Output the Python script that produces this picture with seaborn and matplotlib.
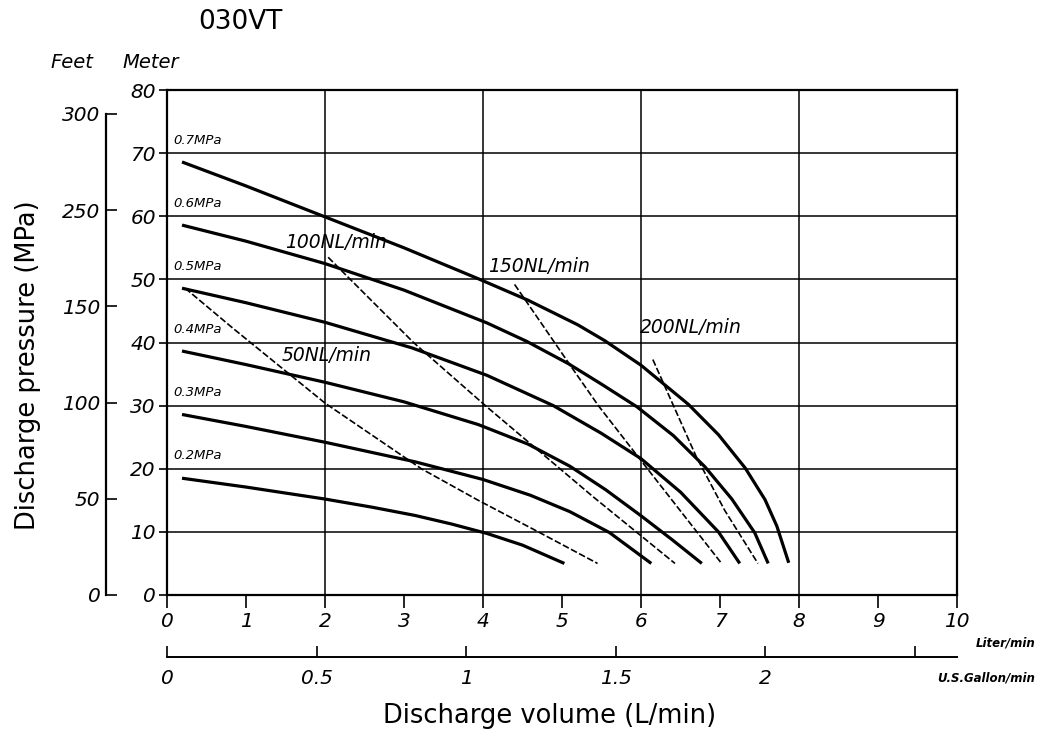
import numpy as np
import pandas as pd
import matplotlib
matplotlib.use("Agg")
import matplotlib.pyplot as plt
from matplotlib.ticker import MultipleLocator, FixedLocator, FixedFormatter
import seaborn as sns

# ---------------- data (L/min, m) ----------------
pressure_names = ["0.7MPa", "0.6MPa", "0.5MPa", "0.4MPa", "0.3MPa", "0.2MPa"]
p07_x = [0.19, 1.0, 2.0, 3.0, 3.94, 4.57, 5.20, 5.54, 6.0, 6.6, 6.98, 7.32, 7.57, 7.72, 7.87]
p07_y = [68.6, 64.8, 59.9, 55.0, 50.1, 46.7, 42.8, 40.3, 36.4, 30.2, 25.4, 20.1, 15.1, 10.9, 5.1]
p06_x = [0.19, 1.0, 2.0, 3.0, 4.05, 4.55, 5.08, 5.5, 5.95, 6.41, 6.81, 7.15, 7.44, 7.61]
p06_y = [58.6, 56.05, 52.5, 48.3, 43.1, 40.2, 36.65, 33.4, 29.8, 25.25, 20.3, 15.2, 9.85, 5.0]
p05_x = [0.19, 1.0, 2.0, 3.1, 4.05, 4.89, 5.5, 6.0, 6.5, 6.98, 7.25]
p05_y = [48.6, 46.3, 43.2, 39.15, 34.8, 30.0, 25.6, 21.6, 16.3, 10.0, 5.0]
p04_x = [0.19, 1.0, 2.0, 3.0, 3.94, 4.57, 5.1, 5.55, 6.0, 6.4, 6.77]
p04_y = [38.65, 36.5, 33.7, 30.6, 27.0, 23.9, 20.4, 16.7, 12.55, 8.7, 5.0]
p03_x = [0.19, 1.0, 2.0, 3.14, 4.0, 4.6, 5.1, 5.6, 6.13]
p03_y = [28.6, 26.7, 24.2, 21.1, 18.3, 15.8, 13.2, 9.9, 5.0]
p02_x = [0.19, 1.0, 2.0, 2.6, 3.14, 3.6, 4.05, 4.5, 5.03]
p02_y = [18.5, 17.1, 15.2, 13.9, 12.6, 11.25, 9.75, 7.9, 5.0]

air_names = ["50NL/min", "100NL/min", "150NL/min", "200NL/min"]
a50_x = [0.23, 0.84, 2.0, 3.22, 3.94, 4.7, 5.45]
a50_y = [48.6, 42.2, 30.4, 20.0, 15.0, 10.0, 5.0]
a100_x = [2.04, 3.12, 4.03, 5.39, 6.43]
a100_y = [53.5, 40.0, 30.0, 15.6, 5.0]
a150_x = [4.40, 5.12, 5.46, 6.0, 7.02]
a150_y = [49.2, 36.1, 30.0, 21.3, 5.0]
a200_x = [6.15, 6.70, 7.06, 7.48]
a200_y = [37.3, 21.9, 13.4, 5.0]

liter_ticks = list(range(0, 11))
meter_ticks = list(range(0, 81, 10))
feet_tick_values = [0, 50, 100, 150, 200, 250]
feet_tick_labels = ["0", "50", "100", "150", "250", "300"]
gallon_ticks = [0, 0.5, 1, 1.5, 2, 2.5]
gallon_labels = ["0", "0.5", "1", "1.5", "2", ""]

LITERS_PER_GALLON = 3.785
METERS_PER_FOOT = 0.3048

# ---------------- figure ----------------
sns.set_style("white")
plt.rcParams["font.family"] = ["DejaVu Sans"]
plt.rcParams["text.color"] = "black"
plt.rcParams["xtick.color"] = "black"
plt.rcParams["ytick.color"] = "black"
plt.rcParams["xtick.labelcolor"] = "black"
plt.rcParams["ytick.labelcolor"] = "black"
W, H = 1038, 733
fig = plt.figure(figsize=(W / 100, H / 100), dpi=100)

L, R, B, T = 167, 957, 595, 90
ax = fig.add_axes([L / W, 1 - B / H, (R - L) / W, (B - T) / H])
ax.set_xlim(0, 10)
ax.set_ylim(0, 80)

for s in ax.spines.values():
    s.set_color("black")
    s.set_linewidth(1.6)

ax.xaxis.set_major_locator(MultipleLocator(2))
ax.xaxis.set_minor_locator(FixedLocator([t for t in liter_ticks if t % 2]))
ax.xaxis.set_major_formatter(lambda v, p: f"{int(v)}")
ax.xaxis.set_minor_formatter(lambda v, p: f"{int(v)}")
ax.yaxis.set_major_locator(FixedLocator(meter_ticks))
ax.yaxis.set_major_formatter(lambda v, p: f"{int(v)}")
ax.grid(True, which="major", color="black", linewidth=1.1)
ax.set_axisbelow(True)
ax.tick_params(axis="x", which="both", direction="out", length=9, width=1.2,
               color="black", labelcolor="black", labelsize=14.5, pad=3, bottom=True)
ax.tick_params(axis="y", which="major", direction="out", length=6, width=1.2,
               color="black", labelcolor="black", labelsize=14.5, pad=2, left=True)
for lab in ax.get_xticklabels(which="both") + ax.get_yticklabels():
    lab.set_fontstyle("italic")

# pressure curves
solid = [(p07_x, p07_y), (p06_x, p06_y), (p05_x, p05_y),
         (p04_x, p04_y), (p03_x, p03_y), (p02_x, p02_y)]
for (xs, ys) in solid:
    sns.lineplot(x=xs, y=ys, ax=ax, color="black", linewidth=2.3,
                 sort=False, estimator=None, solid_capstyle="butt",
                 solid_joinstyle="round")

dashed = [(a50_x, a50_y), (a100_x, a100_y), (a150_x, a150_y), (a200_x, a200_y)]
for (xs, ys) in dashed:
    sns.lineplot(x=xs, y=ys, ax=ax, color="black", linewidth=1.2,
                 sort=False, estimator=None, linestyle=(0, (4, 1.5)))

# curve labels
p_label_pos = [(0.08, 71.0), (0.08, 61.0), (0.08, 51.0),
               (0.08, 41.0), (0.08, 31.0), (0.08, 21.0)]
for name, (x, y) in zip(pressure_names, p_label_pos):
    ax.text(x, y, name, fontsize=9.5, fontstyle="italic", ha="left", va="bottom",
            color="black")

a_label_pos = [(1.45, 38.0), (1.5, 55.9), (4.07, 52.1), (5.99, 42.3)]
for name, (x, y) in zip(air_names, a_label_pos):
    ax.text(x, y, name, fontsize=13.5, fontstyle="italic", ha="left", va="center",
            color="black")

# feet axis
FT_X = 106
axf = fig.add_axes([FT_X / W, 1 - B / H, 0.001, (B - T) / H])
axf.set_ylim(0, 80 / METERS_PER_FOOT)
axf.set_xticks([])
axf.patch.set_visible(False)
for k, s in axf.spines.items():
    s.set_visible(k == "left")
axf.spines["left"].set_linewidth(1.6)
axf.spines["left"].set_color("black")
axf.spines["left"].set_bounds(feet_tick_values[0], feet_tick_values[-1])
axf.yaxis.set_major_locator(FixedLocator(feet_tick_values))
axf.yaxis.set_major_formatter(FixedFormatter(feet_tick_labels))
axf.tick_params(axis="y", direction="in", length=8, width=1.2, color="black",
                labelcolor="black", labelsize=14.5, pad=4, left=True)
for lab in axf.get_yticklabels():
    lab.set_fontstyle("italic")

# gallon axis
GAL_Y = 657
axg = fig.add_axes([L / W, 1 - GAL_Y / H, (R - L) / W, 0.001])
axg.set_xlim(0, 10 / LITERS_PER_GALLON)
axg.set_yticks([])
axg.patch.set_visible(False)
for k, s in axg.spines.items():
    s.set_visible(k == "bottom")
axg.spines["bottom"].set_linewidth(1.4)
axg.spines["bottom"].set_color("black")
axg.xaxis.set_major_locator(FixedLocator(gallon_ticks))
axg.xaxis.set_major_formatter(FixedFormatter(gallon_labels))
axg.tick_params(axis="x", direction="in", length=8, width=1.2, color="black",
                labelcolor="black", labelsize=14.5, pad=9, bottom=True)
for lab in axg.get_xticklabels():
    lab.set_fontstyle("italic")

# texts
fig.text(240 / W, 1 - 22 / H, "030VT", fontsize=19, ha="center", va="center")
fig.text(50 / W, 1 - 63 / H, "Feet", fontsize=14, fontstyle="italic", ha="left", va="center")
fig.text(122 / W, 1 - 63 / H, "Meter", fontsize=14, fontstyle="italic", ha="left", va="center")
fig.text(28 / W, 1 - 365 / H, "Discharge pressure (MPa)", fontsize=18.5,
         rotation=90, ha="center", va="center")
fig.text(550 / W, 1 - 716 / H, "Discharge volume (L/min)", fontsize=18.5,
         ha="center", va="center")
fig.text(1035 / W, 1 - 643 / H, "Liter/min", fontsize=8.5, fontstyle="italic",
         fontweight="bold", ha="right", va="center")
fig.text(1035 / W, 1 - 678 / H, "U.S.Gallon/min", fontsize=8.5, fontstyle="italic",
         fontweight="bold", ha="right", va="center")

fig.savefig("out.png", dpi=100, facecolor="white")
